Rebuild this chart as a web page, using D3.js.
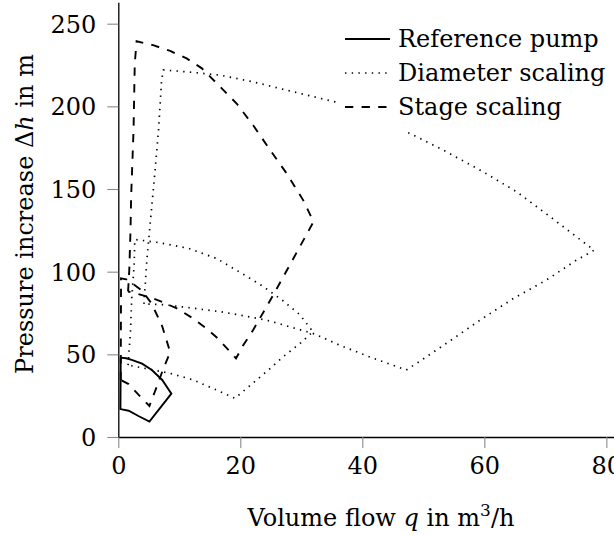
<!DOCTYPE html>
<html>
<head>
<meta charset="utf-8">
<script src="https://cdn.jsdelivr.net/npm/d3@7/dist/d3.min.js"></script>
<style>
  body { margin: 0; background: #fff; }
  text { font-family: "DejaVu Serif", serif; font-size: 24px; fill: #000; }
</style>
</head>
<body>
<svg id="chart" width="614" height="536"></svg>
<script>
var xTicks = [0, 20, 40, 60, 80]
var yTicks = [0, 50, 100, 150, 200, 250]

// operating ranges, [q in m3/h, dh in m], each traced once round
var referencePump = [[0.4, 48], [1.3, 47.6], [2.2, 46.6], [3.9, 44.4], [5.5, 40.5], [7.2, 34.5], [8.7, 26.2],
    [5.1, 9.3], [3.3, 12.7], [1.7, 15.9], [0.35, 16.9], [0.4, 48]]

var diameterSmall = [[1.6, 43.5], [2.0, 64], [2.2, 84], [2.6, 104], [2.7, 119.5], [6.8, 117.5], [11.5, 114.1],
    [16.1, 108], [20.5, 98.4], [23.8, 90.9], [27, 82.4], [29.8, 73.8], [31.9, 63.7], [29.8, 56.6], [27, 48.5],
    [24.9, 41.5], [23, 35.5], [19.1, 23.4], [16.1, 28.4], [12.3, 34.5], [8.5, 38.5], [5.2, 40.9], [1.6, 43.5]]

var diameterLarge = [[4.2, 80.5], [4.7, 108], [5.2, 128], [6.0, 160], [6.6, 186], [7.1, 216], [7.4, 222],
    [11.2, 220.9], [16.7, 218.9], [22.1, 214.8], [27.6, 209.8], [35.5, 202.7], [47.8, 183.6], [53.3, 173.5],
    [59.8, 160.4], [65.3, 148.3], [70.8, 133.2], [75.1, 121.1], [78, 113], [75.1, 107], [70.2, 95],
    [64.8, 83.9], [59.3, 70.7], [53.8, 56.7], [49.3, 45.5], [47.2, 40.5], [41.8, 47.6], [36.3, 55.5],
    [32.2, 62.3], [28.1, 66.7], [24.3, 70.7], [19.9, 73.8], [16.7, 75.8], [11, 78.5], [7.5, 80], [4.2, 80.5]]

var stageTwo = [[0.4, 34.5], [0.45, 96], [1.3, 95.4], [2.2, 93.2], [3.9, 88.5], [5.5, 80.5], [7.2, 67],
    [8.5, 51.3], [7.4, 41.5], [6.3, 30.4], [5.1, 18.8], [3.3, 25.6], [1.7, 32], [0.4, 34.5]]

var stageFive = [[1.6, 88], [1.8, 101], [2.0, 125], [2.1, 145], [2.5, 186], [2.7, 226], [3.0, 239.4],
    [5.7, 237], [8.5, 233.5], [11.2, 229], [13.7, 223], [16.7, 211.8], [19.4, 201.7], [22.1, 188.6],
    [24.9, 173.5], [27.6, 159.4], [30.3, 143.3], [32, 130.2], [28.7, 108], [25.4, 85.9], [22.1, 64.7],
    [20.5, 55.6], [19.3, 47.6], [16.3, 59.7], [14.3, 66.1], [12.1, 72.1], [9.6, 77.8], [7.3, 81.5],
    [5.2, 84.5], [2.8, 87], [1.6, 88]]

var seriesNames = ['Reference pump', 'Diameter scaling', 'Stage scaling']
var seriesShapes = [[referencePump], [diameterSmall, diameterLarge], [stageTwo, stageFive]]
var seriesDash = [null, '1.4 5.3', '8.3 8.3']

var svg = d3.select('#chart')

var x = d3.scaleLinear().domain([0, 81.5]).range([118.3, 615.5])
var y = d3.scaleLinear().domain([0, 263]).range([437, 2.2])

var line = d3.line()
    .x(function(d) { return x(d[0]) })
    .y(function(d) { return y(d[1]) })

// axes: only left and bottom, grey ticks pointing out
var xAxis = svg.append('g')
    .attr('transform', 'translate(0,437)')
    .call(d3.axisBottom(x).tickValues(xTicks).tickSize(11).tickPadding(9).tickSizeOuter(0))
var yAxis = svg.append('g')
    .attr('transform', 'translate(118.3,0)')
    .call(d3.axisLeft(y).tickValues(yTicks).tickSize(11).tickPadding(11).tickSizeOuter(0))

svg.selectAll('.tick line').attr('stroke', '#8a8a8a').attr('stroke-width', 1.1)
svg.selectAll('.domain').attr('stroke', '#000').attr('stroke-width', 1.3)
xAxis.selectAll('.tick text').attr('dy', '0.72em')
yAxis.selectAll('.tick text').attr('dy', '0.36em')

seriesShapes.forEach(function(shapes, i) {
    svg.append('g').selectAll('path')
        .data(shapes)
        .enter().append('path')
        .attr('d', line)
        .attr('fill', 'none')
        .attr('stroke', '#000')
        .attr('stroke-width', i == 1 ? 1.7 : 1.9)
        .attr('stroke-linejoin', 'miter')
        .attr('stroke-dasharray', seriesDash[i])
})

// legend, white box over the plot
var legend = svg.append('g')
legend.append('rect')
    .attr('x', 336).attr('y', 18)
    .attr('width', 280).attr('height', 114)
    .attr('fill', '#fff')

seriesNames.forEach(function(name, i) {
    var ly = 39 + i * 34
    legend.append('line')
        .attr('x1', 345).attr('x2', 390)
        .attr('y1', ly).attr('y2', ly)
        .attr('stroke', '#000')
        .attr('stroke-width', i == 1 ? 1.7 : 1.9)
        .attr('stroke-dasharray', seriesDash[i])
    legend.append('text')
        .attr('x', 398).attr('y', ly + 8)
        .text(name)
})

// axis titles
var xLabel = svg.append('text')
    .attr('x', 381).attr('y', 526)
    .attr('font-size', 25.5)
    .attr('text-anchor', 'middle')
xLabel.append('tspan').text('Volume flow ')
xLabel.append('tspan').attr('font-style', 'italic').text('q')
xLabel.append('tspan').text(' in m')
xLabel.append('tspan').attr('font-size', 17).attr('dy', -10).text('3')
xLabel.append('tspan').attr('dy', 10).text('/h')

var yLabel = svg.append('text')
    .attr('transform', 'translate(33,214) rotate(-90)')
    .attr('font-size', 25)
    .attr('text-anchor', 'middle')
yLabel.append('tspan').text('Pressure increase Δ')
yLabel.append('tspan').attr('font-style', 'italic').text('h')
yLabel.append('tspan').text(' in m')
</script>
</body>
</html>
